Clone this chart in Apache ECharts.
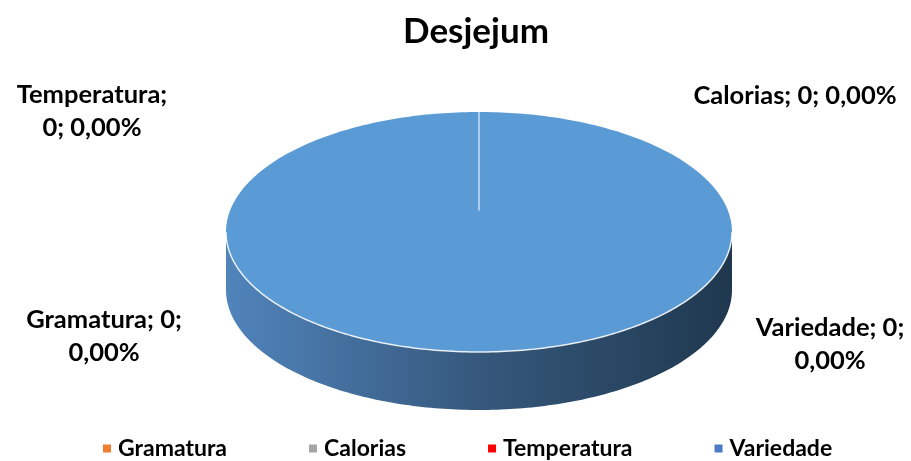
<!DOCTYPE html>
<html>
<head>
<meta charset="utf-8">
<script src="https://cdn.jsdelivr.net/npm/echarts@6/dist/echarts.min.js"></script>
<style>
html,body{margin:0;padding:0;background:#fff;}
#chart{width:911px;height:461px;}
</style>
</head>
<body>
<div id="chart"></div>
<script>
// ---- data ----
const chartTitle = 'Desjejum';
const categories = ['Gramatura', 'Calorias', 'Temperatura', 'Variedade'];
const values = [0, 0, 0, 0];
const percents = [0, 0, 0, 0];
// share of the pie each slice occupies as drawn in the picture
const drawnShare = [0, 0, 0, 1];
const colors = ['#ED7D31', '#A5A5A5', '#FF0000', '#5B9BD5'];
const legendColors = ['#ED7D31', '#A5A5A5', '#FF0000', '#4A7CC8'];

// ---- layout / style ----
const FONT = 'Lato, "Open Sans", sans-serif';
const pie = { cx: 479, cy: 232, rx: 253, ry: 120, depth: 58, centerLift: 0.18 };
const labelLayout = [
  { x: 104, y: 336, breakAfter: 2 },
  { x: 795, y: 96, breakAfter: 0 },
  { x: 92, y: 111, breakAfter: 1 },
  { x: 830, y: 344, breakAfter: 2 }
];

function fmtPct(p) { return p.toFixed(2).replace('.', ',') + '%'; }
function labelText(i) {
  const parts = [categories[i] + ';', values[i] + ';', fmtPct(percents[i])];
  const b = labelLayout[i].breakAfter;
  if (!b) return parts.join(' ');
  return parts.slice(0, b).join(' ') + '\n' + parts.slice(b).join(' ');
}
function ept(t, dy) {
  return [pie.cx + pie.rx * Math.cos(t), pie.cy + (dy || 0) + pie.ry * Math.sin(t)];
}
function arcPts(t0, t1, dy) {
  const pts = [];
  const n = Math.max(2, Math.ceil(Math.abs(t1 - t0) / (Math.PI / 180)));
  for (let k = 0; k <= n; k++) pts.push(ept(t0 + (t1 - t0) * k / n, dy));
  return pts;
}

const totalShare = drawnShare.reduce((a, b) => a + b, 0) || 1;
const startShare = [];
{ let acc = 0; for (let i = 0; i < drawnShare.length; i++) { startShare.push(acc); acc += drawnShare[i]; } }

const sideGradient = {
  type: 'linear', global: true,
  x: pie.cx - pie.rx, y: 0, x2: pie.cx + pie.rx, y2: 0,
  colorStops: [
    { offset: 0, color: '#5084BB' },
    { offset: 0.5, color: '#36587C' },
    { offset: 1, color: '#1F384F' }
  ]
};

function renderSlice(i) {
  return function () {
    const children = [];
    const share = drawnShare[i] / totalShare;
    if (share > 0) {
      const t0 = -Math.PI / 2 + 2 * Math.PI * startShare[i] / totalShare;
      const t1 = t0 + 2 * Math.PI * share;
      for (let base = -2 * Math.PI; base <= 2 * Math.PI; base += 2 * Math.PI) {
        const a = Math.max(t0, base), b = Math.min(t1, base + Math.PI);
        if (b > a) {
          const upper = arcPts(a, b, 0);
          const lower = arcPts(b, a, pie.depth);
          children.push({ type: 'polygon', z2: 1, shape: { points: upper.concat(lower) },
            style: { fill: sideGradient } });
        }
      }
      const topPts = share >= 1 ? arcPts(t0, t1, 0) : [[pie.cx, pie.cy]].concat(arcPts(t0, t1, 0));
      children.push({ type: 'polygon', z2: 2, shape: { points: topPts }, style: { fill: colors[i] } });
      const fa = Math.max(t0, 0), fb = Math.min(t1, Math.PI);
      if (fb > fa) children.push({ type: 'polyline', z2: 3, shape: { points: arcPts(fa, fb, 0) },
        style: { stroke: 'rgba(255,255,255,0.85)', lineWidth: 1.5, fill: null } });
      const c = [pie.cx, pie.cy - pie.ry * pie.centerLift];
      const edges = share >= 1 ? [t0] : [t0, t1];
      edges.forEach(function (t) {
        const p = ept(t, 0);
        children.push({ type: 'line', z2: 3, shape: { x1: c[0], y1: c[1], x2: p[0], y2: p[1] },
          style: { stroke: 'rgba(200,222,245,0.75)', lineWidth: 2 } });
      });
    }
    const L = labelLayout[i];
    children.push({ type: 'text', z2: 4, style: {
      text: labelText(i), x: L.x, y: L.y, align: 'center', verticalAlign: 'middle',
      fontFamily: FONT, fontWeight: 'bold', fontSize: 25.5, lineHeight: 33, fill: '#000'
    } });
    return { type: 'group', children: children };
  };
}

const chart = echarts.init(document.getElementById('chart'), null, { renderer: 'canvas' });
chart.setOption({
  backgroundColor: '#fff',
  animation: false,
  title: {
    text: chartTitle, left: 471, top: 9, textAlign: 'center',
    textStyle: { fontFamily: FONT, fontWeight: 'bold', fontSize: 35, color: '#000' }
  },
  legend: {
    left: 103, top: 437, padding: 0, itemWidth: 8, itemHeight: 8, itemGap: 82, icon: 'rect',
    textStyle: { fontFamily: FONT, fontWeight: 'bold', fontSize: 23, color: '#000', padding: [0, 0, 0, 2] },
    data: categories.map(function (n, i) { return { name: n, itemStyle: { color: legendColors[i] } }; })
  },
  series: categories.map(function (name, i) {
    return {
      type: 'custom', name: name, coordinateSystem: 'none',
      itemStyle: { color: colors[i] },
      data: [[values[i]]],
      renderItem: renderSlice(i)
    };
  })
});
</script>
</body>
</html>
